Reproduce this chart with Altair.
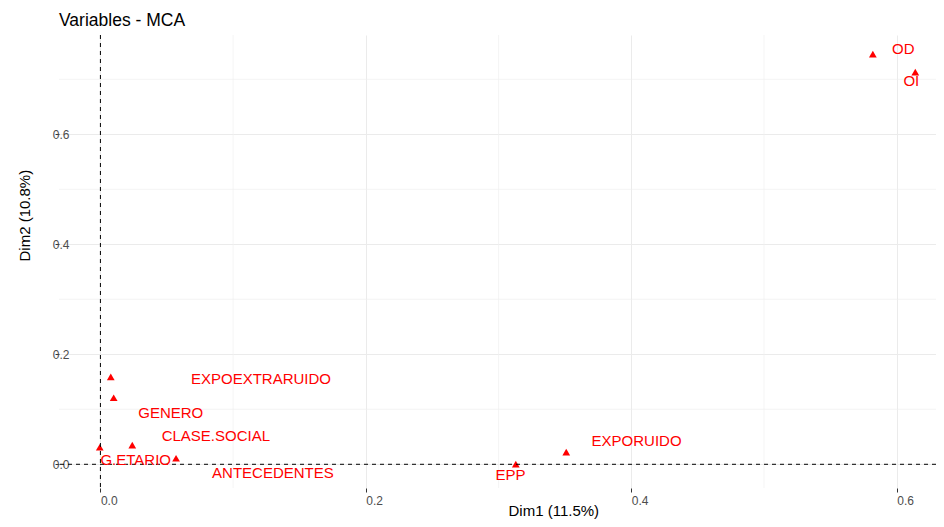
import altair as alt
import pandas as pd

# Variable coordinates (Dim1, Dim2)
names = ["OD", "OI", "EXPOEXTRARUIDO", "GENERO", "G.ETARIO", "CLASE.SOCIAL",
         "ANTECEDENTES", "EPP", "EXPORUIDO"]
dim1 = [0.582, 0.614, 0.0078, 0.010, -0.0005, 0.024, 0.057, 0.313, 0.351]
dim2 = [0.746, 0.713, 0.159, 0.121, 0.031, 0.035, 0.011, 0.0005, 0.022]
# repelled label positions (data units)
label_x = [0.605, 0.611, 0.121, 0.053, 0.0266, 0.087, 0.130, 0.309, 0.404]
label_y = [0.755, 0.697, 0.155, 0.093, 0.008, 0.052, -0.016, -0.019, 0.042]

major_ticks = [0.0, 0.2, 0.4, 0.6]
minor_x = [0.1, 0.3, 0.5]
minor_y = [0.1, 0.3, 0.5, 0.7]
zero = [0.0]

x_domain = [-0.0312, 0.6296]
y_domain = [-0.0431, 0.7806]

pts = pd.DataFrame({"name": names, "x": dim1, "y": dim2})
labs = pd.DataFrame({"name": names, "lx": label_x, "ly": label_y})
mx = pd.DataFrame({"v": minor_x})
my = pd.DataFrame({"v": minor_y})
zz = pd.DataFrame({"v": zero})

FONT = "Liberation Sans"
W, H = 877, 453

xscale = alt.Scale(domain=x_domain, nice=False, zero=False)
yscale = alt.Scale(domain=y_domain, nice=False, zero=False)

xaxis = alt.Axis(values=major_ticks, format=".1f", labelAlign="left",
                 labelColor="#4D4D4D", labelFontSize=12, labelFont=FONT,
                 tickColor="#333333", tickSize=4, domain=False,
                 gridColor="#EBEBEB", gridWidth=1, labelPadding=3,
                 title="Dim1 (11.5%)", titleFont=FONT, titleFontSize=15,
                 titleFontWeight="normal", titleColor="#000000",
                 titleX=449, titleY=22, titleAlign="left",
                 titleBaseline="middle", titleAnchor="start")
yaxis = alt.Axis(values=major_ticks, format=".1f", labelAlign="right",
                 labelColor="#4D4D4D", labelFontSize=12, labelFont=FONT,
                 tickColor="#333333", tickSize=4, domain=False,
                 gridColor="#EBEBEB", gridWidth=1, labelPadding=-14,
                 title="Dim2 (10.8%)", titleFont=FONT, titleFontSize=15,
                 titleFontWeight="normal", titleColor="#000000",
                 titleX=-35, titleY=226, titleAlign="left", titleAngle=-90,
                 titleBaseline="middle", titleAnchor="start")

base_pts = alt.Chart(pts).mark_point(
    shape="triangle-up", filled=True, color="#FF0000", size=60, opacity=1
).encode(
    x=alt.X("x:Q", scale=xscale, axis=xaxis),
    y=alt.Y("y:Q", scale=yscale, axis=yaxis),
)

minor_vx = alt.Chart(mx).mark_rule(color="#EFEFEF", strokeWidth=0.7).encode(
    x=alt.X("v:Q", scale=xscale))
minor_hy = alt.Chart(my).mark_rule(color="#EFEFEF", strokeWidth=0.7).encode(
    y=alt.Y("v:Q", scale=yscale))

vline = alt.Chart(zz).mark_rule(color="#000000", strokeWidth=1,
                                strokeDash=[4, 4]).encode(
    x=alt.X("v:Q", scale=xscale))
hline = alt.Chart(zz).mark_rule(color="#000000", strokeWidth=1,
                                strokeDash=[4, 4]).encode(
    y=alt.Y("v:Q", scale=yscale))

texts = alt.Chart(labs).mark_text(
    color="#FF0000", fontSize=15, font=FONT, align="center", baseline="middle"
).encode(
    x=alt.X("lx:Q", scale=xscale),
    y=alt.Y("ly:Q", scale=yscale),
    text="name:N",
)

chart = alt.layer(minor_vx, minor_hy, base_pts, vline, hline, texts).properties(
    width=W, height=H,
    background="white",
    title=alt.TitleParams("Variables - MCA", anchor="start", frame="group",
                          font=FONT, fontSize=17.5, fontWeight="normal",
                          color="#000000", baseline="alphabetic", offset=9,
                          dy=18),
    autosize=alt.AutoSizeParams(type="none"),
    padding={"left": 51, "top": 27, "right": 0, "bottom": 31},
).configure_view(strokeWidth=0, stroke="transparent")

chart.save("out.html", embed_options={"renderer": "svg", "actions": False})
